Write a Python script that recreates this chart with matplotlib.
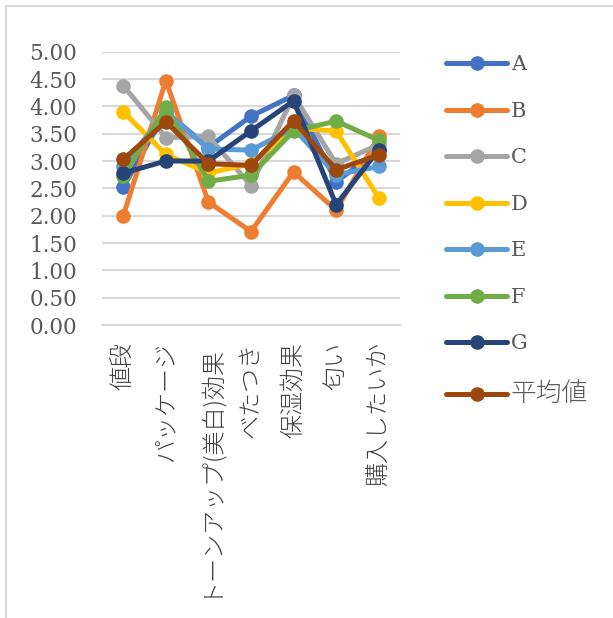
import numpy as np
import matplotlib
matplotlib.use('Agg')
import matplotlib.pyplot as plt
from matplotlib.lines import Line2D

# categories and series values
categories = ["値段", "パッケージ", "トーンアップ(美白)効果", "べたつき", "保湿効果", "匂い", "購入したいか"]
series_names = ["A", "B", "C", "D", "E", "F", "G", "平均値"]
A = [2.52, 3.90, 3.25, 3.82, 4.20, 2.62, 3.20]
B = [2.00, 4.47, 2.25, 1.71, 2.80, 2.10, 3.45]
C = [4.38, 3.43, 3.45, 2.55, 4.20, 2.95, 3.30]
D = [3.90, 3.12, 2.78, 2.95, 3.60, 3.55, 2.33]
E = [2.90, 3.90, 3.22, 3.20, 3.60, 2.75, 2.90]
F = [2.72, 3.98, 2.63, 2.74, 3.55, 3.73, 3.38]
G = [2.78, 3.00, 3.00, 3.55, 4.10, 2.20, 3.21]
AVG = [3.03, 3.72, 2.95, 2.92, 3.74, 2.84, 3.11]
yticks = [0, 0.5, 1, 1.5, 2, 2.5, 3, 3.5, 4, 4.5, 5]

colors = ["#4472C4", "#ED7D31", "#A5A5A5", "#FFC000", "#5B9BD5", "#70AD47", "#264478", "#9E480E"]

fig = plt.figure(figsize=(6.13, 6.18), dpi=100)
ax = fig.add_axes([102/613, 1-325/618, 298/613, 273.3/618])

x = np.arange(len(categories))
for name, vals, col in zip(series_names, [A, B, C, D, E, F, G, AVG], colors):
    ax.plot(x, vals, color=col, lw=3.6, marker='o', ms=9.5, label=name,
            solid_capstyle='round', solid_joinstyle='round')

ax.set_xlim(-0.5, len(categories) - 0.5)
ax.set_ylim(0, 5)
ax.set_yticks(yticks)
ax.set_yticklabels(["%.2f" % v for v in yticks], family='DejaVu Serif', fontsize=15.5, color='#595959')
ax.set_xticks(x)
ax.set_xticklabels(categories, rotation=90, family=['Noto Sans CJK JP', 'DejaVu Sans'],
                   fontsize=17.3, color='#404040', fontweight='light')
ax.tick_params(axis='y', length=0, pad=18)
ax.tick_params(axis='x', length=0, pad=12)
ax.grid(axis='y', color='#D9D9D9', lw=1.5)
ax.set_axisbelow(True)
for s in ['left', 'right', 'top']:
    ax.spines[s].set_visible(False)
ax.spines['bottom'].set_color('#D9D9D9')
ax.spines['bottom'].set_linewidth(1.5)

leg = fig.legend(loc='upper left', bbox_to_anchor=(436/613, 1-45/618), frameon=False,
                 prop={'family': ['DejaVu Serif', 'Noto Sans CJK JP'], 'size': 15},
                 labelspacing=1.32, handlelength=2.9, handletextpad=0.2, borderpad=0,
                 labelcolor='#595959')
leg.get_texts()[-1].set_fontsize(18.5)
leg.get_texts()[-1].set_fontweight('light')

# outer chart frame (only top and left edges visible)
fig.add_artist(Line2D([6/613, 6/613], [0, 1-6/618], color='#D9D9D9', lw=1.5))
fig.add_artist(Line2D([6/613, 1], [1-6/618, 1-6/618], color='#D9D9D9', lw=1.5))

fig.savefig('out.png', dpi=100)
